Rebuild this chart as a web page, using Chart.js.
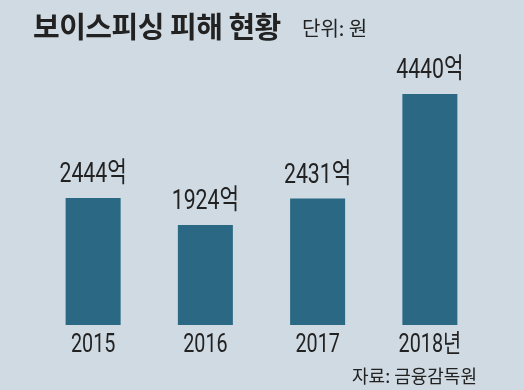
<!DOCTYPE html>
<html><head><meta charset="utf-8">
<script src="https://cdn.jsdelivr.net/npm/chart.js@4"></script>
<style>
html,body{margin:0;padding:0;background:#cfdae2;}
#wrap{position:relative;width:524px;height:390px;overflow:hidden;background:#cfdae2;}
.t{position:absolute;font-family:"Noto Sans CJK KR","Noto Sans",sans-serif;color:#222;white-space:nowrap;line-height:1;}
#title{left:33px;top:11px;font-weight:700;font-size:29px;letter-spacing:-0.5px;}
#unit{left:302px;top:18px;font-size:20px;}
#src{right:47px;top:366px;font-size:18px;}
canvas{position:absolute;left:0;top:0;}
</style></head>
<body>
<div id="wrap">
<canvas id="c" width="524" height="390"></canvas>
<div id="title" class="t">보이스피싱 피해 현황</div>
<div id="unit" class="t">단위: 원</div>
<div id="src" class="t">자료: 금융감독원</div>
</div>
<script>
const categories = ["2015", "2016", "2017", "2018년"];
const values = [2444, 1924, 2431, 4440];
const valueLabels = ["2444억", "1924억", "2431억", "4440억"];

const labelFont = 'Roboto, "Noto Sans CJK KR", "DejaVu Sans", sans-serif';

function drawCondensed(ctx, text, x, y, size, sx) {
  ctx.save();
  ctx.translate(x, y);
  ctx.scale(sx, 1);
  ctx.font = size + 'px ' + labelFont;
  ctx.fillStyle = '#222';
  ctx.textAlign = 'center';
  ctx.textBaseline = 'alphabetic';
  ctx.fillText(text, 0, 0);
  ctx.restore();
}

const labelPlugin = {
  id: 'condensedLabels',
  afterDatasetsDraw(chart) {
    const ctx = chart.ctx;
    const meta = chart.getDatasetMeta(0);
    const xs = chart.scales.x;
    const bottom = chart.chartArea.bottom;
    meta.data.forEach((bar, i) => {
      drawCondensed(ctx, valueLabels[i], bar.x, bar.y - 16, 28, 0.76);
    });
    categories.forEach((c, i) => {
      drawCondensed(ctx, c, xs.getPixelForTick(i), bottom + 27, 25, 0.79);
    });
  }
};

new Chart(document.getElementById('c'), {
  type: 'bar',
  data: {
    labels: categories,
    datasets: [{
      data: values,
      backgroundColor: '#2b6884',
      borderWidth: 0,
      categoryPercentage: 1,
      barPercentage: 0.49
    }]
  },
  options: {
    responsive: false,
    animation: false,
    devicePixelRatio: 1,
    layout: { padding: { left: 37, right: 38, top: 65, bottom: 65 } },
    plugins: { legend: { display: false }, tooltip: { enabled: false } },
    scales: {
      x: { display: false },
      y: { display: false, min: 0, max: 5000 }
    }
  },
  plugins: [labelPlugin]
});
</script>
</body></html>
